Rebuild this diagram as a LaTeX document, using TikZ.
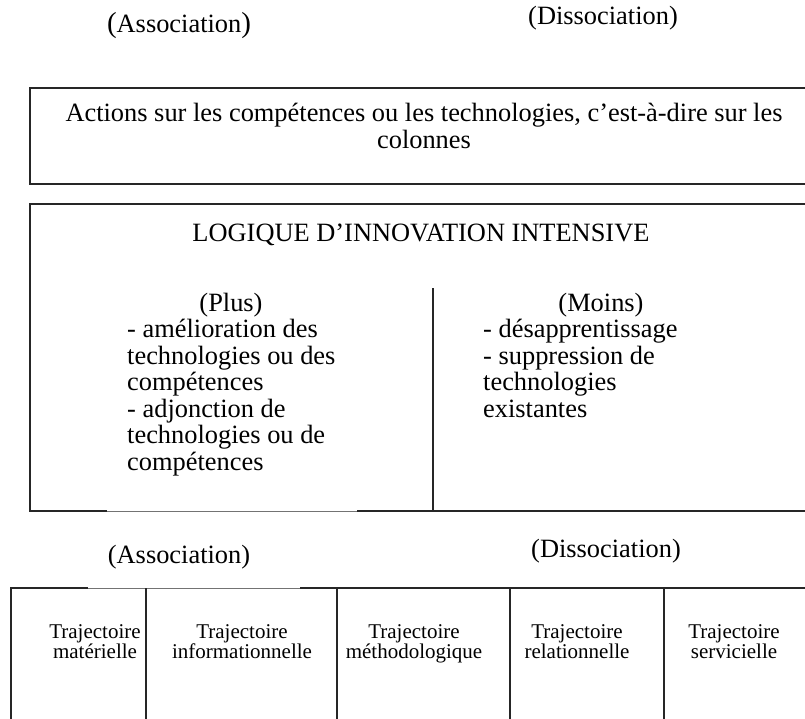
\documentclass[tikz,border=0pt]{standalone}
\usepackage{fontspec}
\setmainfont{Liberation Serif}
\begin{document}
\begin{tikzpicture}[x=1pt,y=-1pt,
  txt/.style={inner sep=0pt, anchor=base, font=\fontsize{26.4}{26.5}\selectfont},
  txtl/.style={txt, anchor=base west},
  small/.style={inner sep=0pt, anchor=base, font=\fontsize{21}{20.5}\selectfont},
  heavy/.style={line width=1.8pt, black!85},
  light/.style={line width=0.9pt, black!55}]
\useasboundingbox (0,0) rectangle (805,719);
\clip (0,0) rectangle (805,719);
% top labels
\node[txt] (assocTop) at (179,33) {{\fontsize{29}{29}\selectfont(}Association{\fontsize{29}{29}\selectfont)}};
\node[txt] (dissocTop) at (603,25) {(Dissociation)};
% box 1
\draw[heavy] (30,88) rectangle (812,184);
\node[txt] (act1) at (424,122) {Actions sur les compétences ou les technologies, c’est-à-dire sur les};
\node[txt] (act2) at (424,149) {colonnes};
% box 2
\draw[heavy] (107,511) -- (30,511) -- (30,204) -- (812,204) -- (812,511) -- (357,511);
\draw[light] (107,511) -- (357,511);
\draw[heavy] (433,288) -- (433,511);
\node[txt] (logique) at (421,241) {LOGIQUE D’INNOVATION INTENSIVE};
\node[txt] (plus) at (231,311) {(Plus)};
\foreach \i/\t in {1/- amélioration des, 2/technologies ou des, 3/compétences, 4/- adjonction de, 5/technologies ou de, 6/compétences}
  \node[txtl] (plus\i) at (127,311+26.5*\i) {\t};
\node[txt] (moins) at (601,311) {(Moins)};
\foreach \i/\t in {1/- désapprentissage, 2/- suppression de, 3/technologies, 4/existantes}
  \node[txtl] (moins\i) at (483,311+26.5*\i) {\t};
% bottom labels
\node[txt] (assocBot) at (179,563) {(Association)};
\node[txt] (dissocBot) at (606,557) {(Dissociation)};
% table
\draw[heavy] (88,588) -- (11,588) -- (11,730);
\draw[light] (88,588) -- (300,588);
\draw[heavy] (300,588) -- (812,588);
\foreach \x in {146,337,510,664}
  \draw[heavy] (\x,588) -- (\x,730);
\foreach \n/\x/\a/\b in {mat/95/Trajectoire/matérielle, inf/242/Trajectoire/informationnelle, met/414/Trajectoire/méthodologique, rel/577/Trajectoire/relationnelle, ser/734/Trajectoire/servicielle}{
  \node[small] (\n1) at (\x,638) {\a};
  \node[small] (\n2) at (\x,658.5) {\b};
}
\end{tikzpicture}
\end{document}
